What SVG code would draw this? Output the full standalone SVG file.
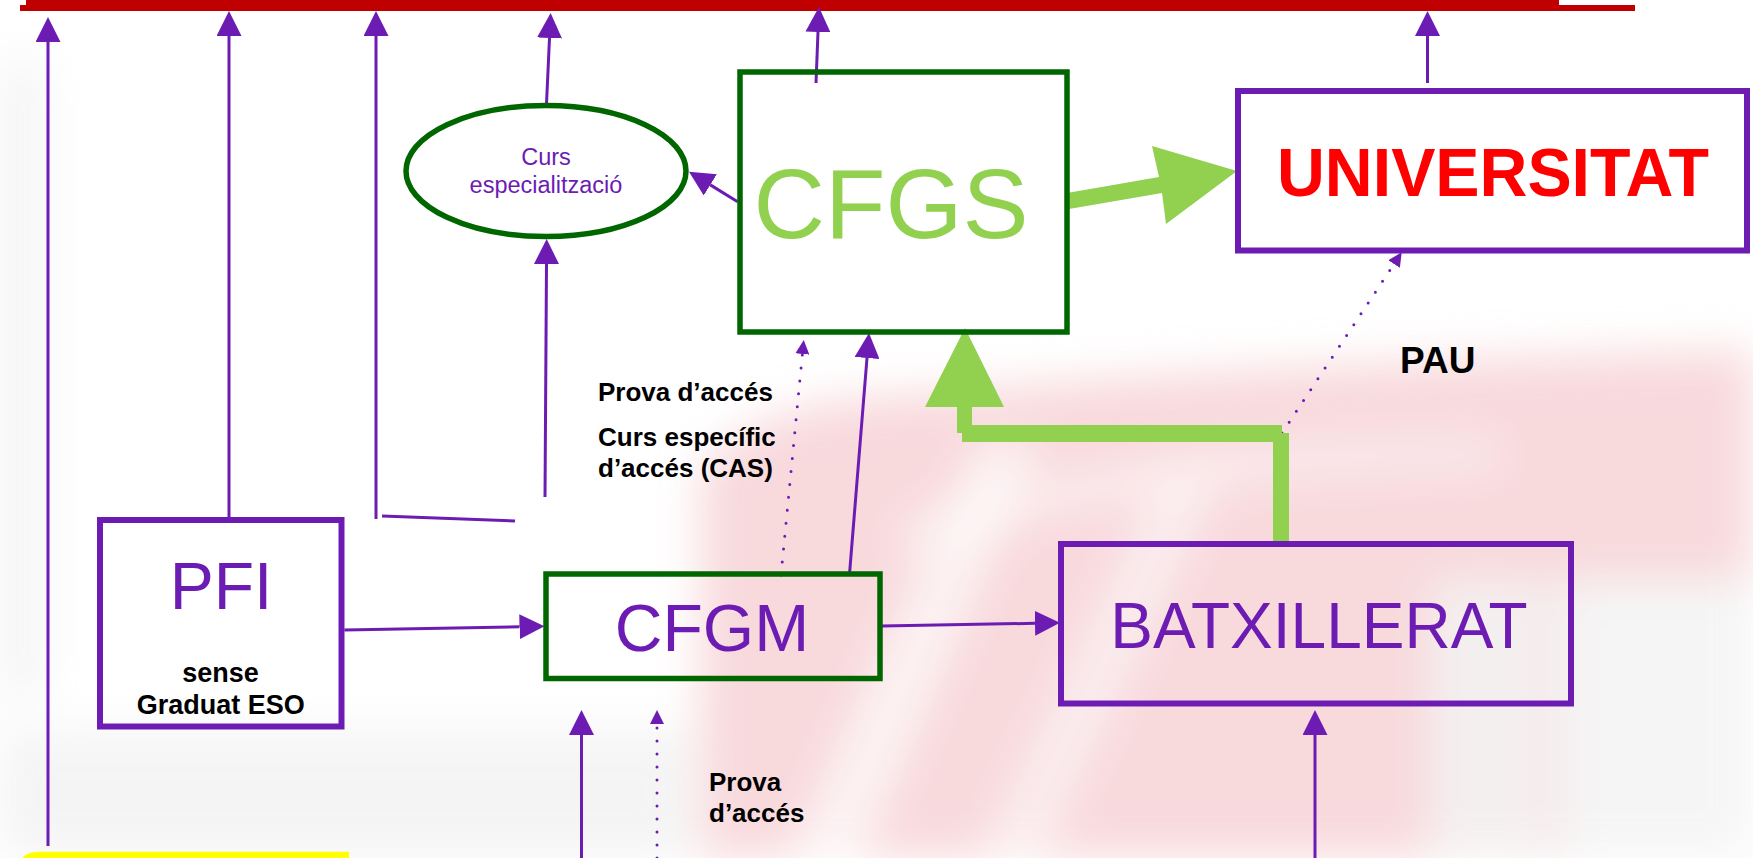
<svg xmlns="http://www.w3.org/2000/svg" width="1753" height="858" viewBox="0 0 1753 858">
<defs>
<style>
.ln{stroke:#6C1CB3;stroke-width:3;fill:none}
.dt{stroke:#6C1CB3;stroke-width:3;fill:none;stroke-dasharray:0 13;stroke-linecap:round}
.bp{fill:none;stroke:#6C1CB3;stroke-width:6}
.bg{fill:none;stroke:#006600;stroke-width:5.5}
text{font-family:"Liberation Sans",Arial,Helvetica,sans-serif}
.pt{fill:#6C1CB3}
.bk{fill:#000;font-weight:bold}
.lg{fill:#92D050}
.wm{fill:#f7d3d7}
.ws{fill:#fff}
</style>
<marker id="ah" markerUnits="userSpaceOnUse" viewBox="0 0 25 25" markerWidth="25" markerHeight="25" refX="0" refY="12.5" orient="auto"><path d="M0,0L25,12.5L0,25z" fill="#6C1CB3"/></marker>
<marker id="as" markerUnits="userSpaceOnUse" viewBox="0 0 14 14" markerWidth="14" markerHeight="14" refX="0" refY="7" orient="auto"><path d="M0,0L14,7L0,14z" fill="#6C1CB3"/></marker>
<filter id="bl" x="-10%" y="-10%" width="120%" height="120%"><feGaussianBlur stdDeviation="22"/></filter>
</defs>
<rect width="1753" height="858" fill="#fff"/>
<g id="watermark" filter="url(#bl)" opacity="0.85">
<path class="wm" d="M700,858 L700,470 Q760,400 900,395 Q1300,360 1753,350 L1753,858 Z"/>
<path class="ws" d="M790,858 L860,858 L1040,440 L980,440 Z" opacity="0.7"/>
<path class="ws" d="M980,858 L1040,858 L1220,480 L1160,480 Z" opacity="0.55"/>
<path class="ws" d="M900,520 Q1150,430 1500,440 L1500,470 Q1150,470 900,560 Z" opacity="0.5"/>
<rect x="1560" y="580" width="193" height="278" fill="#f4f4f4"/>
<rect x="1430" y="580" width="120" height="278" fill="#f3eded"/>
<rect x="0" y="730" width="690" height="128" fill="#f3f3f3"/>
<rect x="0" y="60" width="45" height="640" fill="#f3f3f3"/>
</g>
<g id="topbar">
<rect x="26" y="0" width="1533" height="6" fill="#C00000"/>
<rect x="20" y="5" width="1615" height="6" fill="#C00000"/>
</g>
<g id="connectors">
<path class="ln" d="M48,846L48,42" marker-end="url(#ah)"/>
<path class="ln" d="M229,518L229,36" marker-end="url(#ah)"/>
<path class="ln" d="M515,521L382,516"/>
<path class="ln" d="M376,519L376,36" marker-end="url(#ah)"/>
<path class="ln" d="M545,497L546.5,264" marker-end="url(#ah)"/>
<path class="ln" d="M546.5,104L549.5,38" marker-end="url(#ah)"/>
<path class="ln" d="M816,83L818,32" marker-end="url(#ah)"/>
<path class="ln" d="M1427.5,83L1427.5,36" marker-end="url(#ah)"/>
<path class="ln" d="M737.6,201.7L710.3,184.9" marker-end="url(#ah)"/>
<path class="ln" d="M344.4,630L519.5,626.7" marker-end="url(#ah)"/>
<path class="ln" d="M881.6,626L1035,623.3" marker-end="url(#ah)"/>
<path class="ln" d="M849.6,573L867,358" marker-end="url(#ah)"/>
<path class="ln" d="M581.5,858L581.5,735" marker-end="url(#ah)"/>
<path class="ln" d="M1315,858L1315,735" marker-end="url(#ah)"/>
<path class="dt" d="M781,575L802.4,354" marker-end="url(#as)"/>
<path class="dt" d="M657,858L657,724" marker-end="url(#as)"/>
<path class="dt" d="M1282,433L1394,264" marker-end="url(#as)"/>
<polygon class="lg" points="1067,193 1159,177 1152,146 1237,171 1166,224 1162,193 1069,209"/>
<rect class="lg" x="962" y="425" width="320" height="17"/>
<rect class="lg" x="1273" y="433" width="16" height="110"/>
<rect class="lg" x="957" y="405" width="15" height="28"/>
<polygon class="lg" points="965,328 1004,407 925,407"/>
</g>
<g id="curs">
<ellipse cx="546" cy="171" rx="140" ry="65.5" class="bg"/>
<text x="546" y="165" font-size="23.5" text-anchor="middle" class="pt">Curs</text>
<text x="546" y="193" font-size="23.5" text-anchor="middle" class="pt">especialització</text>
</g>
<g id="cfgs">
<rect x="740" y="72" width="327" height="260" class="bg"/>
<text x="891" y="238" font-size="99" text-anchor="middle" class="lg">CFGS</text>
</g>
<g id="universitat">
<rect x="1238" y="91" width="509" height="159.5" class="bp"/>
<text x="1493" y="196" font-size="68" font-weight="bold" text-anchor="middle" fill="#FF0000" textLength="432" lengthAdjust="spacingAndGlyphs">UNIVERSITAT</text>
</g>
<g id="pfi">
<rect x="100" y="520" width="241.5" height="206.5" class="bp"/>
<text x="221" y="609" font-size="66" text-anchor="middle" class="pt">PFI</text>
<text x="220.5" y="681.7" font-size="27" text-anchor="middle" class="bk">sense</text>
<text x="220.8" y="714" font-size="27" text-anchor="middle" class="bk">Graduat ESO</text>
</g>
<g id="cfgm">
<rect x="546" y="574" width="334" height="104.5" class="bg"/>
<text x="712" y="650.7" font-size="66" text-anchor="middle" class="pt">CFGM</text>
</g>
<g id="batxillerat">
<rect x="1061" y="544" width="510" height="159.5" class="bp"/>
<text x="1319" y="647.7" font-size="64" text-anchor="middle" class="pt">BATXILLERAT</text>
</g>
<g id="labels">
<text x="598" y="401" font-size="26" class="bk">Prova d’accés</text>
<text x="598" y="446" font-size="26" class="bk">Curs específic</text>
<text x="598" y="477" font-size="26" class="bk">d’accés (CAS)</text>
<text x="1400" y="373" font-size="37" class="bk">PAU</text>
<text x="709" y="790.7" font-size="26" class="bk">Prova</text>
<text x="709" y="821.7" font-size="26" class="bk">d’accés</text>
</g>
<g id="yellow">
<path d="M20,858L20,866Q20,851.7 40,851.7L349,851.7L349,858Z" fill="#FFFF00"/>
</g>
</svg>
